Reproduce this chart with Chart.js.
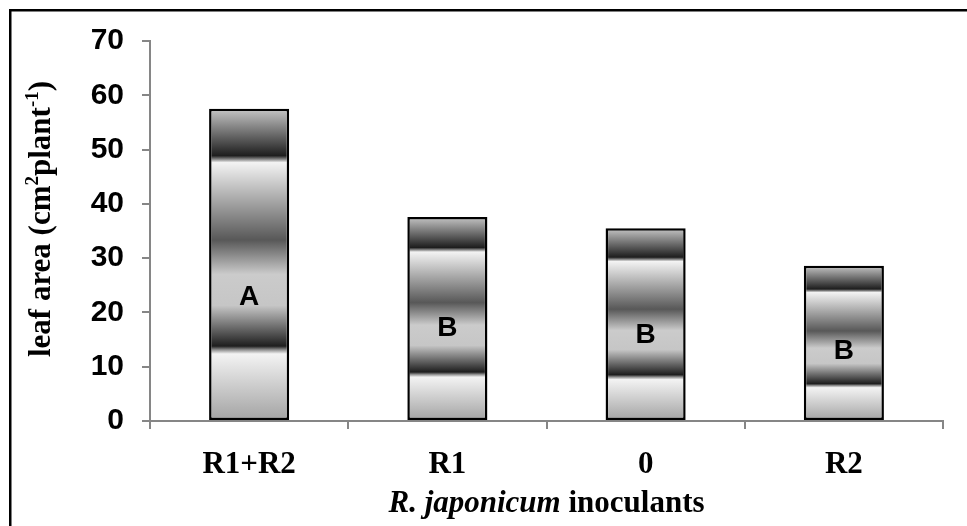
<!DOCTYPE html>
<html>
<head>
<meta charset="utf-8">
<script src="https://cdn.jsdelivr.net/npm/chart.js@4"></script>
<style>
  html, body { margin: 0; padding: 0; background: #ffffff; }
  #wrap { width: 967px; height: 526px; position: relative; }
</style>
</head>
<body>
<div id="wrap"><canvas id="c" width="967" height="526"></canvas></div>
<script>
// ---- data ----
const categories = ['R1+R2', 'R1', '0', 'R2'];
const leafArea = [57.5, 37.6, 35.5, 28.6];
const groupLetters = ['A', 'B', 'B', 'B'];
const yTicks = [0, 10, 20, 30, 40, 50, 60, 70];

// ---- presentation ----
const letterAnchor = [23.0, 17.3, 16.0, 13.1]; // where each letter sits (value units)
const AXIS = '#868686';

function barGradient(ctx) {
  if (ctx.type !== 'data') return '#c8c8c8';
  const chart = ctx.chart;
  if (!chart.chartArea) return '#c8c8c8';
  const ys = chart.scales.y;
  const v = ctx.chart.data.datasets[ctx.datasetIndex].data[ctx.dataIndex];
  const top = ys.getPixelForValue(v);
  const bot = ys.getPixelForValue(0);
  const g = chart.ctx.createLinearGradient(0, top, 0, bot);
  g.addColorStop(0.00, '#c6c6c6');
  g.addColorStop(0.15, '#1e1e1e');
  g.addColorStop(0.162, '#8c8c8c');
  g.addColorStop(0.172, '#f3f3f3');
  g.addColorStop(0.42, '#585858');
  g.addColorStop(0.53, '#cbcbcb');
  g.addColorStop(0.63, '#c6c6c6');
  g.addColorStop(0.76, '#1e1e1e');
  g.addColorStop(0.772, '#909090');
  g.addColorStop(0.785, '#f3f3f3');
  g.addColorStop(1.00, '#a2a2a2');
  return g;
}

const decorPlugin = {
  id: 'decor',
  beforeDraw(chart) {
    const c = chart.ctx;
    c.save();
    c.fillStyle = '#ffffff';
    c.fillRect(0, 0, chart.width, chart.height);
    c.restore();
  },
  afterDatasetsDraw(chart) {
    const c = chart.ctx;
    const meta = chart.getDatasetMeta(0);
    const ys = chart.scales.y;
    c.save();
    c.fillStyle = '#000';
    c.font = 'bold 28px "Liberation Sans", Arial, sans-serif';
    c.textAlign = 'center';
    c.textBaseline = 'middle';
    meta.data.forEach((bar, i) => {
      c.fillText(groupLetters[i], bar.x, ys.getPixelForValue(letterAnchor[i]) + 1);
    });
    c.restore();
  },
  afterDraw(chart) {
    const c = chart.ctx;
    const area = chart.chartArea;
    c.save();
    // outer frame (left and top edges visible)
    c.fillStyle = '#000';
    c.fillRect(9, 9, chart.width - 9, 2.5);
    c.fillRect(9, 9, 2.5, chart.height - 9);

    // x axis title: "R. japonicum inoculants"
    const fItal = 'italic bold 31px "Liberation Serif", "Times New Roman", serif';
    const fBold = 'bold 31px "Liberation Serif", "Times New Roman", serif';
    const p1 = 'R. japonicum', p2 = ' inoculants';
    c.font = fItal; const w1 = c.measureText(p1).width;
    c.font = fBold; const w2 = c.measureText(p2).width;
    const cx = (area.left + area.right) / 2;
    let x = cx - (w1 + w2) / 2;
    const yb = 512;
    c.textBaseline = 'alphabetic';
    c.textAlign = 'left';
    c.font = fItal; c.fillText(p1, x, yb);
    c.font = fBold; c.fillText(p2, x + w1, yb);

    // y axis title: "leaf area (cm²plant⁻¹)"
    const fMain = 'bold 31px "Liberation Serif", "Times New Roman", serif';
    const fSup = 'bold 19px "Liberation Serif", "Times New Roman", serif';
    const parts = [
      ['leaf area (cm', fMain, 0],
      ['2', fSup, -12],
      ['plant', fMain, 0],
      ['-1', fSup, -12],
      [')', fMain, 0]
    ];
    let total = 0;
    parts.forEach(p => { c.font = p[1]; p.push(c.measureText(p[0]).width); total += p[3]; });
    c.translate(50, 219);
    c.rotate(-Math.PI / 2);
    let px = -total / 2;
    parts.forEach(p => {
      c.font = p[1];
      c.fillText(p[0], px, p[2]);
      px += p[3];
    });
    c.restore();
  }
};

new Chart(document.getElementById('c'), {
  type: 'bar',
  data: {
    labels: categories,
    datasets: [{
      data: leafArea,
      backgroundColor: barGradient,
      borderColor: '#000000',
      borderWidth: 2.5,
      borderSkipped: false,
      categoryPercentage: 1.0,
      barPercentage: 0.404
    }]
  },
  options: {
    responsive: false,
    animation: false,
    devicePixelRatio: 1,
    layout: { padding: { top: 41, right: 24, left: 0, bottom: 0 } },
    plugins: { legend: { display: false }, tooltip: { enabled: false }, title: { display: false } },
    scales: {
      x: {
        type: 'category',
        offset: true,
        grid: { offset: true, drawOnChartArea: false, drawTicks: true, tickLength: 8, color: AXIS, lineWidth: 2 },
        border: { display: true, color: AXIS, width: 2 },
        ticks: {
          color: '#000',
          padding: 17,
          maxRotation: 0,
          font: { family: '"Liberation Serif", "Times New Roman", serif', size: 31, weight: 'bold' }
        },
        afterFit(scale) { scale.height = 105; }
      },
      y: {
        min: 0, max: 70,
        afterBuildTicks(scale) { scale.ticks = yTicks.map(v => ({ value: v })); },
        grid: { drawOnChartArea: false, drawTicks: true, tickLength: 8, color: AXIS, lineWidth: 2 },
        border: { display: true, color: AXIS, width: 2 },
        ticks: {
          color: '#000',
          padding: 18,
          font: { family: '"Liberation Sans", Arial, sans-serif', size: 30, weight: 'bold' }
        },
        afterFit(scale) { scale.width = 150; }
      }
    }
  },
  plugins: [decorPlugin]
});
</script>
</body>
</html>
